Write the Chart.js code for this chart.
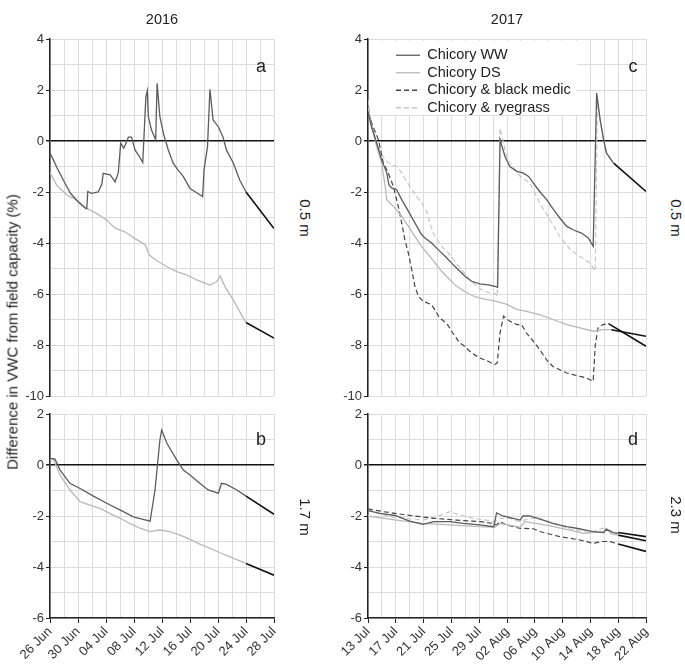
<!DOCTYPE html>
<html>
<head>
<meta charset="utf-8">
<script src="https://cdn.jsdelivr.net/npm/chart.js@4.4.1/dist/chart.umd.min.js"></script>
<style>
  body { margin: 0; background: #fff; font-family: "Liberation Sans", Arial, sans-serif; }
  #fig { position: relative; width: 685px; height: 665px; }
  #fig canvas { position: absolute; }
  .lbl { position: absolute; color: #222; white-space: nowrap; transform: translate(-50%, -50%); }
  .title { font-size: 14.5px; }
  .ylab { font-size: 15px; transform: translate(-50%, -50%) rotate(-90deg); }
  .side { font-size: 15px; transform: translate(-50%, -50%) rotate(90deg); }
  .panel { font-size: 18px; }
</style>
</head>
<body>
<div id="fig">
  <canvas id="panel-a" width="290" height="410" style="left:0;top:0"></canvas>
  <canvas id="panel-b" width="290" height="265" style="left:0;top:400px"></canvas>
  <canvas id="panel-c" width="340" height="410" style="left:318px;top:0"></canvas>
  <canvas id="panel-d" width="340" height="265" style="left:318px;top:400px"></canvas>

  <div class="lbl title" style="left:162px;top:19px">2016</div>
  <div class="lbl title" style="left:507px;top:19px">2017</div>
  <div class="lbl ylab" style="left:12px;top:332px">Difference in VWC from field capacity (%)</div>
  <div class="lbl side" style="left:305px;top:218px">0.5 m</div>
  <div class="lbl side" style="left:305px;top:517px">1.7 m</div>
  <div class="lbl side" style="left:676px;top:218px">0.5 m</div>
  <div class="lbl side" style="left:676px;top:515px">2.3 m</div>
  <div class="lbl panel" style="left:261px;top:66px">a</div>
  <div class="lbl panel" style="left:261px;top:439px">b</div>
  <div class="lbl panel" style="left:633px;top:66px">c</div>
  <div class="lbl panel" style="left:633px;top:439px">d</div>
</div>
<script>
// x = days since the first date of each season
const labels2016 = ["26 Jun", "30 Jun", "04 Jul", "08 Jul", "12 Jul", "16 Jul", "20 Jul", "24 Jul", "28 Jul"];
const labels2017 = ["13 Jul", "17 Jul", "21 Jul", "25 Jul", "29 Jul", "02 Aug", "06 Aug", "10 Aug", "14 Aug", "18 Aug", "22 Aug"];
const seriesNames = ["Chicory WW", "Chicory DS", "Chicory & black medic", "Chicory & ryegrass"];

// 2016, 0.5 m
const aDaysWW = [0, 0.5, 1.0, 1.9, 2.9, 4.0, 5.0, 5.25, 5.4, 5.95, 6.9, 7.4, 7.6, 8.6, 9.3, 9.75, 10.1, 10.55, 11.2, 11.65, 12.15, 12.75, 13.25, 13.7, 13.9, 14.05, 14.5, 15.1, 15.3, 15.7, 16.2, 16.9, 17.6, 18.3, 19.05, 20.0, 20.95, 21.8, 22.0, 22.5, 22.85, 23.3, 24.05, 24.7, 25.2, 26.2, 27.1, 28.0];
const aWW = [-0.47, -0.75, -1.05, -1.53, -2.04, -2.38, -2.63, -2.66, -1.98, -2.05, -2.0, -1.7, -1.27, -1.33, -1.6, -1.26, -0.09, -0.28, 0.15, 0.15, -0.35, -0.6, -0.84, 1.74, 1.97, 0.95, 0.43, 0.04, 2.26, 0.95, 0.3, -0.35, -0.87, -1.14, -1.4, -1.86, -2.03, -2.18, -1.14, -0.22, 2.03, 0.82, 0.56, 0.17, -0.35, -0.87, -1.53, -2.0];
const aDaysDS = [0, 0.95, 2.4, 3.8, 5.25, 6.65, 8.1, 9.3, 10.7, 12.1, 13.6, 14.2, 15.1, 16.7, 18.1, 19.5, 20.95, 22.85, 23.8, 24.3, 25.0, 26.2, 27.1, 28.0];
const aDS = [-1.24, -1.73, -2.12, -2.31, -2.64, -2.84, -3.1, -3.42, -3.56, -3.82, -4.08, -4.47, -4.67, -4.93, -5.12, -5.25, -5.45, -5.65, -5.52, -5.29, -5.71, -6.24, -6.69, -7.12];
const aFitDays = [28, 32];
const aFitWW = [-2.0, -3.43];
const aFitDS = [-7.12, -7.73];

// 2016, 1.7 m
const bDaysWW = [0, 0.7, 1.45, 2.85, 4.3, 6.2, 8.1, 10.0, 11.9, 13.3, 14.3, 15.0, 15.7, 15.95, 16.7, 18.1, 19.05, 20.0, 21.4, 22.6, 23.8, 24.05, 24.5, 25.2, 26.7, 28.0];
const bWW = [0.26, 0.24, -0.2, -0.72, -0.92, -1.22, -1.5, -1.76, -2.03, -2.13, -2.2, -0.98, 0.98, 1.37, 0.85, 0.2, -0.2, -0.39, -0.72, -0.98, -1.08, -1.11, -0.72, -0.76, -0.98, -1.22];
const bDaysDS = [0, 0.5, 1.45, 2.85, 4.3, 5.7, 7.15, 8.55, 10.0, 11.4, 12.85, 14.3, 15.7, 17.1, 18.6, 20.0, 21.4, 22.9, 24.3, 25.7, 28.0];
const bDS = [0.22, 0.2, -0.39, -0.98, -1.44, -1.57, -1.7, -1.9, -2.09, -2.29, -2.48, -2.61, -2.55, -2.61, -2.75, -2.92, -3.1, -3.27, -3.44, -3.6, -3.86];
const bFitDays = [28, 32];
const bFitWW = [-1.22, -1.93];
const bFitDS = [-3.86, -4.32];

// 2017, 0.5 m
const cDaysWW = [0, 0.5, 1.25, 1.95, 2.7, 3.0, 3.4, 4.1, 4.85, 5.8, 6.75, 7.7, 8.2, 9.15, 10.1, 11.1, 12.0, 13.0, 14.0, 14.9, 16.1, 17.3, 18.3, 18.65, 19.0, 19.7, 20.4, 21.4, 22.3, 23.1, 23.8, 24.7, 25.7, 26.7, 27.6, 28.6, 29.5, 30.7, 31.7, 32.4, 32.9, 33.4, 33.9, 34.3, 35.3];
const cWW = [1.16, 0.57, -0.08, -0.73, -1.25, -1.71, -1.84, -1.9, -2.3, -2.75, -3.21, -3.67, -3.8, -4.0, -4.26, -4.52, -4.78, -5.05, -5.31, -5.5, -5.6, -5.64, -5.7, -5.74, 0.05, -0.6, -1.0, -1.19, -1.25, -1.39, -1.65, -1.98, -2.3, -2.69, -3.02, -3.35, -3.48, -3.61, -3.8, -4.13, 1.88, 0.84, 0.05, -0.47, -0.86];
const cDaysDS = [0, 0.5, 1.25, 1.95, 2.4, 2.7, 3.15, 3.9, 4.85, 5.8, 6.75, 7.7, 8.7, 9.65, 10.6, 11.55, 12.5, 13.5, 14.4, 15.4, 16.8, 18.3, 19.9, 21.4, 22.8, 24.7, 26.6, 28.6, 30.5, 32.4, 33.8, 35.0];
const cDS = [1.3, 0.57, -0.21, -0.86, -1.64, -2.3, -2.43, -2.63, -2.95, -3.35, -3.74, -4.13, -4.46, -4.78, -5.11, -5.37, -5.64, -5.83, -5.98, -6.1, -6.2, -6.28, -6.4, -6.6, -6.68, -6.81, -7.0, -7.2, -7.33, -7.46, -7.4, -7.4];
const cDaysBM = [0, 0.75, 1.5, 2.2, 2.9, 3.65, 4.35, 4.85, 5.3, 5.8, 6.3, 6.75, 7.25, 7.95, 9.15, 9.9, 10.3, 11.3, 12.2, 13.2, 13.9, 14.9, 16.1, 17.3, 18.2, 18.6, 19.0, 19.5, 20.4, 21.4, 22.1, 22.8, 23.8, 24.7, 25.7, 26.6, 27.6, 28.6, 29.5, 30.5, 31.4, 32.4, 32.7, 33.1, 33.8, 34.6];
const cBM = [1.1, 0.55, 0.05, -0.86, -1.25, -1.78, -2.56, -3.21, -3.87, -4.39, -5.05, -5.7, -6.09, -6.29, -6.42, -6.75, -6.94, -7.14, -7.53, -7.92, -8.05, -8.31, -8.51, -8.64, -8.77, -8.7, -7.53, -6.87, -7.07, -7.2, -7.2, -7.53, -7.86, -8.18, -8.58, -8.84, -8.97, -9.1, -9.16, -9.23, -9.29, -9.42, -8.0, -7.33, -7.2, -7.16];
const cDaysRG = [0, 0.5, 1.25, 1.95, 2.7, 3.4, 4.1, 4.85, 5.55, 6.3, 7.0, 7.7, 8.45, 8.9, 9.4, 9.9, 10.6, 11.55, 12.5, 13.5, 14.4, 15.4, 16.3, 17.5, 18.3, 18.6, 19.0, 19.95, 20.6, 21.9, 23.3, 24.7, 26.2, 27.6, 29.1, 30.5, 31.9, 32.7, 33.0, 33.4, 33.9, 34.4, 35.3];
const cRG = [1.6, 0.7, -0.08, -0.53, -0.79, -0.93, -0.99, -1.25, -1.58, -1.9, -2.17, -2.43, -2.75, -3.21, -3.61, -3.87, -4.13, -4.39, -4.72, -5.05, -5.37, -5.64, -5.83, -5.96, -5.98, -6.1, 0.5, -0.6, -0.93, -1.39, -1.65, -2.43, -3.09, -3.74, -4.26, -4.53, -4.78, -5.1, 1.7, 0.8, 0.0, -0.5, -0.9];
const cFitWWDays = [35.3, 40];
const cFitWW = [-0.86, -1.98];
const cFitDSDays = [35.0, 40];
const cFitDS = [-7.4, -7.66];
const cFitBMDays = [34.6, 40];
const cFitBM = [-7.16, -8.05];

// 2017, 2.3 m
const dDaysWW = [0, 1.7, 3.9, 6.0, 7.9, 9.5, 11.8, 13.7, 16.1, 18.1, 18.5, 19.4, 20.9, 21.9, 22.3, 23.3, 25.2, 26.7, 28.6, 30.0, 32.4, 33.9, 34.3, 35.3, 36.0];
const dWW = [-1.79, -1.9, -1.98, -2.2, -2.33, -2.22, -2.22, -2.29, -2.35, -2.42, -1.88, -2.0, -2.09, -2.16, -2.0, -2.0, -2.16, -2.3, -2.42, -2.48, -2.61, -2.65, -2.52, -2.65, -2.68];
const dDaysDS = [0, 4.1, 7.9, 11.8, 16.1, 18.2, 19.0, 21.9, 22.6, 23.3, 26.2, 29.5, 31.0, 33.9, 34.3, 35.0, 36.0];
const dDS = [-2.0, -2.16, -2.29, -2.35, -2.42, -2.44, -2.29, -2.44, -2.22, -2.25, -2.39, -2.58, -2.68, -2.61, -2.48, -2.7, -2.75];
const dDaysBM = [0, 2.2, 5.5, 9.4, 12.7, 16.1, 18.0, 18.5, 19.0, 19.9, 21.8, 23.8, 24.7, 27.6, 30.5, 32.4, 33.8, 34.8, 36.0];
const dBM = [-1.72, -1.83, -1.96, -2.09, -2.16, -2.22, -2.29, -2.35, -2.22, -2.35, -2.48, -2.5, -2.61, -2.81, -2.94, -3.07, -3.0, -3.0, -3.1];
const dDaysRG = [0, 3.1, 7.9, 9.8, 11.8, 13.2, 15.1, 17.0, 18.1, 19.0, 20.4, 21.8, 23.3, 24.7, 26.6, 29.5, 31.9, 33.8, 36.0];
const dRG = [-1.76, -2.03, -2.16, -2.03, -1.83, -1.96, -2.09, -2.16, -2.22, -2.09, -2.09, -2.22, -2.09, -2.09, -2.29, -2.55, -2.65, -2.48, -2.68];
const dFitDays = [36, 40];
const dFit1 = [-2.65, -2.81];
const dFit2 = [-2.75, -2.97];
const dFit3 = [-3.1, -3.39];

const GRID = "#dcdcdc";
const INK = "#222";
const STYLE_WW = { borderColor: "#5c5c5c", borderWidth: 1.3 };
const STYLE_DS = { borderColor: "#b9b9b9", borderWidth: 1.3 };
const STYLE_BM = { borderColor: "#454545", borderWidth: 1.2, borderDash: [5, 3] };
const STYLE_RG = { borderColor: "#c6c6c6", borderWidth: 1.2, borderDash: [5, 3] };
const STYLE_FIT = { borderColor: "#111", borderWidth: 1.6 };

Chart.defaults.font.family = '"Liberation Sans", Arial, sans-serif';

function series(label, days, values, style) {
  return Object.assign(
    { label, data: days.map((d, i) => ({ x: d, y: values[i] })), pointRadius: 0, fill: false },
    style
  );
}

// legend items take their line dash from the dataset, not from the point style
function legendLabels(chart) {
  const items = Chart.defaults.plugins.legend.labels.generateLabels(chart);
  return items.map((item) => {
    const ds = chart.data.datasets[item.datasetIndex];
    return Object.assign(item, {
      strokeStyle: ds.borderColor,
      lineWidth: 1.3,
      lineDash: ds.borderDash || [],
    });
  });
}

// legend sits inside panel c on a white box
const legendInside = {
  id: "legendInside",
  afterUpdate(chart) {
    const a = chart.chartArea;
    Object.assign(chart.legend, { left: a.left + 25, top: a.top + 6, right: a.right, bottom: a.bottom });
  },
  beforeDatasetsDraw(chart) {
    const a = chart.chartArea;
    const ctx = chart.ctx;
    ctx.save();
    ctx.fillStyle = "#fff";
    ctx.fillRect(a.left + 1, a.top + 2, 208, 74);
    ctx.restore();
    chart.legend.draw();
  },
};

function makePanel(id, cfg) {
  return new Chart(document.getElementById(id), {
    type: "line",
    data: { datasets: cfg.datasets },
    options: {
      responsive: false,
      devicePixelRatio: 1,
      animation: false,
      layout: { padding: cfg.padding },
      elements: { line: { tension: 0 } },
      plugins: {
        legend: cfg.legend || { display: false },
        tooltip: { enabled: false },
      },
      scales: {
        x: {
          type: "linear",
          min: 0,
          max: (cfg.xLabels.length - 1) * 4,
          afterFit: (s) => {
            s.height = cfg.xHeight;
            s.paddingLeft = 0;
            s.paddingRight = 0;
          },
          ticks: {
            display: cfg.showX,
            stepSize: 2,
            autoSkip: false,
            minRotation: 45,
            maxRotation: 45,
            padding: 1,
            color: "#333",
            font: { size: 13 },
            callback: (v) => (v % 4 === 0 ? cfg.xLabels[v / 4] : ""),
          },
          grid: {
            z: -1,
            color: GRID,
            drawTicks: cfg.showX,
            tickLength: 5,
            tickColor: (c) => (c.tick.value % 4 === 0 ? INK : "rgba(0,0,0,0)"),
          },
          border: { display: cfg.showX, color: INK, width: 1.5 },
        },
        y: {
          min: cfg.yMin,
          max: cfg.yMax,
          afterFit: (s) => {
            s.width = 50;
            s.paddingTop = 0;
            s.paddingBottom = 0;
          },
          ticks: {
            stepSize: 1,
            autoSkip: false,
            padding: 2,
            color: "#333",
            font: { size: 13 },
            callback: (v) => (v % 2 === 0 ? String(v) : ""),
          },
          grid: {
            color: (c) => (c.tick.value === 0 ? "#111" : GRID),
            lineWidth: (c) => (c.tick.value === 0 ? 1.5 : 1),
            tickLength: 4,
            tickColor: (c) => (c.tick.value % 2 === 0 ? INK : "rgba(0,0,0,0)"),
          },
          border: { color: INK, width: 1.5 },
        },
      },
    },
    plugins: cfg.plugins || [],
  });
}

makePanel("panel-a", {
  padding: { top: 39, right: 16, left: 0, bottom: 0 },
  xHeight: 14,
  showX: false,
  xLabels: labels2016,
  yMin: -10,
  yMax: 4,
  datasets: [
    series(seriesNames[0], aDaysWW, aWW, STYLE_WW),
    series(seriesNames[1], aDaysDS, aDS, STYLE_DS),
    series("fit", aFitDays, aFitWW, STYLE_FIT),
    series("fit", aFitDays, aFitDS, STYLE_FIT),
  ],
});

makePanel("panel-b", {
  padding: { top: 14, right: 16, left: 0, bottom: 0 },
  xHeight: 47,
  showX: true,
  xLabels: labels2016,
  yMin: -6,
  yMax: 2,
  datasets: [
    series(seriesNames[0], bDaysWW, bWW, STYLE_WW),
    series(seriesNames[1], bDaysDS, bDS, STYLE_DS),
    series("fit", bFitDays, bFitWW, STYLE_FIT),
    series("fit", bFitDays, bFitDS, STYLE_FIT),
  ],
});

makePanel("panel-c", {
  padding: { top: 39, right: 12, left: 0, bottom: 0 },
  xHeight: 14,
  showX: false,
  xLabels: labels2017,
  yMin: -10,
  yMax: 4,
  datasets: [
    series(seriesNames[0], cDaysWW, cWW, STYLE_WW),
    series(seriesNames[1], cDaysDS, cDS, STYLE_DS),
    series(seriesNames[2], cDaysBM, cBM, STYLE_BM),
    series(seriesNames[3], cDaysRG, cRG, STYLE_RG),
    series("fit", cFitWWDays, cFitWW, STYLE_FIT),
    series("fit", cFitDSDays, cFitDS, STYLE_FIT),
    series("fit", cFitBMDays, cFitBM, STYLE_FIT),
  ],
  legend: {
    position: "chartArea",
    align: "start",
    labels: {
      usePointStyle: true,
      pointStyle: "line",
      pointStyleWidth: 24,
      padding: 3,
      color: INK,
      font: { size: 14.5 },
      generateLabels: legendLabels,
      filter: (item) => item.datasetIndex < 4,
    },
  },
  plugins: [legendInside],
});

makePanel("panel-d", {
  padding: { top: 14, right: 12, left: 0, bottom: 0 },
  xHeight: 47,
  showX: true,
  xLabels: labels2017,
  yMin: -6,
  yMax: 2,
  datasets: [
    series(seriesNames[0], dDaysWW, dWW, STYLE_WW),
    series(seriesNames[1], dDaysDS, dDS, STYLE_DS),
    series(seriesNames[2], dDaysBM, dBM, STYLE_BM),
    series(seriesNames[3], dDaysRG, dRG, STYLE_RG),
    series("fit", dFitDays, dFit1, STYLE_FIT),
    series("fit", dFitDays, dFit2, STYLE_FIT),
    series("fit", dFitDays, dFit3, STYLE_FIT),
  ],
});
</script>
</body>
</html>
